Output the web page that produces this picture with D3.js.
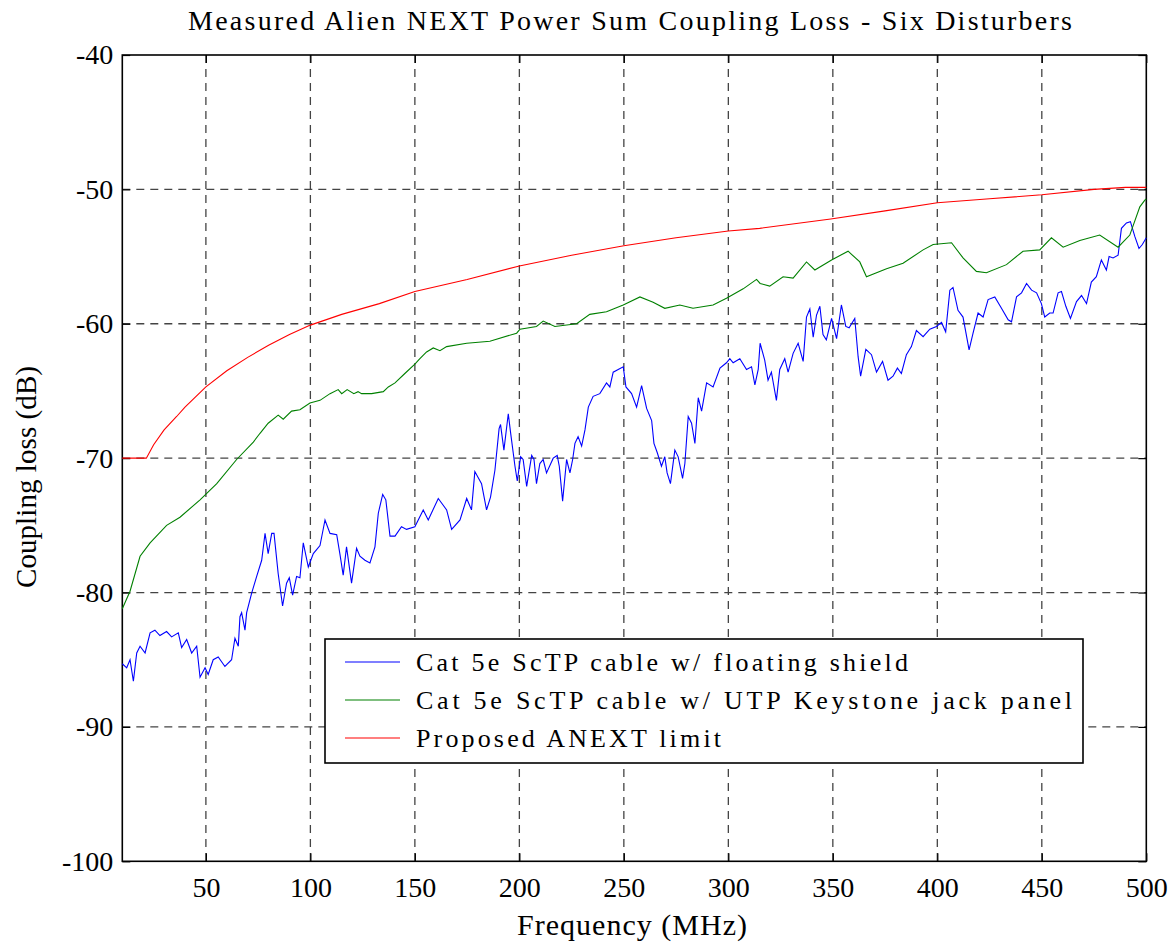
<!DOCTYPE html>
<html>
<head>
<meta charset="utf-8">
<script src="https://cdn.jsdelivr.net/npm/d3@7"></script>
<style>
  body { margin: 0; background: #fff; }
  text { font-family: "Liberation Serif", "Times New Roman", serif; fill: #000; }
</style>
</head>
<body>
<svg class="canvas" width="1174" height="947"></svg>
<script>
// frequency ticks and loss ticks
var xTicks = [50, 100, 150, 200, 250, 300, 350, 400, 450, 500]
var yTicks = [-40, -50, -60, -70, -80, -90, -100]

// Cat 5e ScTP cable w/ floating shield  [MHz, dB]
var blueSeries = [
  [10,-85.3],[12.1,-85.6],[13.7,-85.0],[15.3,-86.6],[16.9,-84.5],[18.5,-84.0],[20.9,-84.5],
  [23.3,-83.0],[25.6,-82.8],[28,-83.2],[31.2,-82.9],[33.6,-83.3],[36.8,-83.0],[38.4,-84.1],
  [40.8,-83.5],[43.2,-84.5],[45.6,-84.0],[47.2,-86.3],[49.6,-85.6],[51.1,-86.1],[53.5,-85.0],
  [55.9,-84.8],[59.1,-85.5],[62.3,-85.0],[63.9,-83.4],[65.5,-84.0],[66.3,-81.8],[67.1,-81.5],
  [68.7,-82.8],[69.5,-81.5],[71.9,-80.05],[74.3,-78.8],[76.7,-77.6],[78.3,-75.6],[79.8,-77.1],
  [81.5,-75.6],[82.6,-75.6],[84.6,-78.6],[86.7,-81.0],[88.6,-79.3],[89.9,-78.9],[91.5,-80.2],
  [93.4,-78.8],[95,-78.9],[96.6,-76.3],[99,-78.1],[101.4,-77.1],[104.6,-76.5],[107,-74.6],
  [109.4,-75.6],[112.6,-75.7],[114.1,-77.1],[115.7,-78.7],[117.3,-76.6],[119.7,-79.3],
  [122.1,-76.7],[123.7,-77.3],[126.1,-77.6],[128.5,-77.8],[130.9,-76.6],[132.5,-74.1],
  [134.6,-72.7],[136.1,-73.1],[138.1,-75.8],[140.5,-75.8],[143.6,-75.1],[146,-75.3],
  [150,-75.1],[154,-73.85],[156.4,-74.6],[161.2,-73.0],[165.2,-73.85],[167.6,-75.3],
  [171.6,-74.6],[174.8,-73.0],[177.1,-73.85],[178.7,-71.0],[181.9,-71.9],[184.3,-73.85],
  [186.2,-72.9],[188.3,-70.9],[190.3,-67.8],[191,-67.5],[192.6,-69.4],[194.7,-66.7],
  [195.8,-68.1],[197.9,-70.6],[199,-71.7],[200.6,-69.9],[201.8,-70.1],[203.5,-72.1],
  [205.9,-69.8],[207,-70.1],[208.2,-71.9],[209.8,-70.4],[211.4,-70.1],[213,-71.1],
  [216.2,-70.0],[218.1,-69.8],[219.1,-70.6],[220.7,-73.2],[222.6,-70.1],[224.2,-71.1],
  [225.5,-70.1],[226.6,-68.9],[228.1,-68.4],[229.8,-69.1],[231.4,-67.9],[233,-66.2],
  [235.3,-65.4],[238.5,-65.2],[241.7,-64.4],[243.3,-64.7],[244.9,-63.6],[247.3,-63.4],
  [249.7,-63.2],[251,-64.7],[253.7,-65.2],[256.1,-66.2],[258.5,-64.6],[260.9,-66.3],
  [263.3,-67.2],[264.4,-68.9],[266,-69.6],[268,-70.6],[269.6,-69.9],[270.7,-71.1],
  [272.3,-71.9],[274.4,-69.4],[276,-69.9],[278.1,-71.5],[279.2,-70.4],[280.8,-66.9],
  [282.4,-67.4],[284,-68.9],[285.6,-65.5],[287.2,-66.5],[289.6,-64.4],[292.7,-64.7],
  [296,-63.3],[299.1,-62.9],[300.7,-62.6],[302.3,-62.9],[305.5,-62.6],[308.7,-63.4],
  [311.1,-63.2],[312.7,-64.55],[314.3,-63.4],[315.2,-61.45],[317.4,-62.7],[319,-64.2],
  [320.6,-63.6],[323,-65.7],[324.6,-63.4],[327,-62.6],[328.6,-63.6],[331,-62.2],
  [333.4,-61.45],[335.8,-62.8],[337.4,-59.5],[339,-58.9],[340.6,-61.0],[342.2,-59.35],
  [343.8,-58.7],[345.3,-60.8],[346.9,-61.2],[349.4,-59.6],[351.8,-61.1],[354.1,-58.6],
  [356.2,-60.2],[357.8,-60.3],[360.5,-59.6],[362.1,-62.45],[363.3,-63.9],[365.8,-61.9],
  [368.5,-62.3],[370.9,-63.6],[373.8,-62.8],[376.4,-64.2],[378.8,-63.9],[380.9,-63.3],
  [382.8,-63.7],[385.2,-62.3],[387.6,-61.7],[390,-60.5],[393.2,-60.96],[396.4,-60.4],
  [399.6,-60.2],[402,-59.9],[404,-60.6],[406,-57.5],[407.5,-57.3],[409.9,-59.0],
  [412.3,-59.5],[415.2,-61.95],[417.1,-60.7],[419.5,-59.2],[421.9,-59.5],[424.3,-58.2],
  [427.5,-58.0],[430.7,-58.85],[433.9,-59.7],[435.5,-59.85],[437.9,-58.0],[440.3,-57.7],
  [442.7,-57.0],[445.1,-57.5],[447.5,-57.7],[449.8,-58.5],[451.4,-59.5],[453.8,-59.2],
  [455.4,-59.2],[457.8,-57.7],[459.4,-57.6],[461.5,-58.7],[463.7,-59.6],[466.6,-58.35],
  [469,-57.9],[471.4,-58.5],[473.7,-56.9],[476.1,-56.5],[478.5,-55.25],[480.9,-56.0],
  [482.2,-55.0],[484.1,-55.1],[486.5,-54.9],[488.1,-52.9],[490.5,-52.5],[492.4,-52.4],
  [494.5,-53.5],[496.5,-54.4],[498.1,-54.1],[500,-53.6]
]

// Cat 5e ScTP cable w/ UTP Keystone jack panel  [MHz, dB]
var greenSeries = [
  [10,-81.2],[13.7,-79.9],[18.5,-77.3],[23.3,-76.3],[31.2,-75.0],[37.6,-74.4],[47.2,-73.1],
  [55.2,-71.9],[64.7,-70.1],[72.7,-68.8],[75.9,-68.15],[79.8,-67.4],[84.6,-66.8],[87,-67.1],
  [91,-66.5],[95,-66.4],[99.8,-65.9],[104.6,-65.7],[109.4,-65.2],[113.3,-64.9],[115,-65.2],
  [117.6,-64.9],[120.8,-65.2],[122.8,-65.05],[124.5,-65.2],[129.3,-65.2],[134.9,-65.05],
  [137.3,-64.7],[140.5,-64.4],[145.2,-63.7],[150,-63.0],[152.4,-62.6],[155.6,-62.1],
  [158.8,-61.8],[162,-62.0],[165.2,-61.7],[174.8,-61.45],[185.9,-61.3],[198.7,-60.7],
  [200.3,-60.4],[208.2,-60.2],[211.4,-59.8],[217,-60.2],[227.4,-60.0],[233.7,-59.3],
  [241.7,-59.1],[249.7,-58.6],[257.7,-58.0],[264,-58.4],[269.6,-58.85],[276.8,-58.6],
  [283.1,-58.85],[292.7,-58.6],[299.1,-58.1],[307.1,-57.4],[313.5,-56.7],[315.2,-57.0],
  [319.8,-57.2],[326.2,-56.5],[331,-56.6],[337.4,-55.4],[341.4,-56.0],[349.4,-55.25],
  [357.3,-54.6],[362.9,-55.4],[366.1,-56.5],[375.7,-55.9],[383.6,-55.5],[393.2,-54.5],
  [398,-54.1],[406.8,-53.97],[412.3,-55.1],[418.7,-56.1],[423.5,-56.2],[433.1,-55.6],
  [441,-54.6],[449,-54.5],[454.6,-53.6],[460.2,-54.3],[468.2,-53.8],[477.7,-53.4],
  [486.5,-54.3],[492.1,-53.4],[496.9,-51.3],[499.3,-50.8],[500,-50.7]
]

// Proposed ANEXT limit  [MHz, dB]
var redSeries = [
  [10,-70],[21.5,-70],[25,-69.0],[30,-67.9],[36,-66.9],[40,-66.2],[50,-64.7],[60,-63.5],
  [70,-62.5],[80,-61.6],[90,-60.8],[100,-60.1],[115,-59.3],[133,-58.5],[150,-57.6],
  [175,-56.7],[200,-55.7],[225,-54.9],[250,-54.2],[275,-53.6],[300,-53.1],[315,-52.9],
  [349,-52.2],[375,-51.6],[400,-51.0],[425,-50.7],[450,-50.4],[475,-50.0],[490,-49.85],[500,-49.85]
]

var legendLabels = [
  'Cat 5e ScTP cable w/ floating shield',
  'Cat 5e ScTP cable w/ UTP Keystone jack panel',
  'Proposed ANEXT limit'
]
var seriesColors = ['#0000ff', '#008000', '#ff0000']

var svg = d3.select('.canvas')
var margin = {left: 122.3, top: 55, right: 1146.3, bottom: 861.3}

var x = d3.scaleLinear().domain([10, 500]).range([margin.left, margin.right])
var y = d3.scaleLinear().domain([-100, -40]).range([margin.bottom, margin.top])

// grid
svg.append('g').selectAll('line')
  .data(xTicks.filter(function(d) { return d < 500 }))
  .enter().append('line')
  .attr('x1', function(d) { return x(d) }).attr('x2', function(d) { return x(d) })
  .attr('y1', margin.top).attr('y2', margin.bottom)
  .attr('stroke', '#444').attr('stroke-width', 1.3).attr('stroke-dasharray', '8,6')

svg.append('g').selectAll('line')
  .data(yTicks.filter(function(d) { return d > -100 && d < -40 }))
  .enter().append('line')
  .attr('x1', margin.left).attr('x2', margin.right)
  .attr('y1', function(d) { return y(d) }).attr('y2', function(d) { return y(d) })
  .attr('stroke', '#444').attr('stroke-width', 1.3).attr('stroke-dasharray', '8,6')

// axes, ticks pointing inward on all four sides
var plain = function(d) { return String(d) }
var xAxis = svg.append('g')
  .attr('transform', 'translate(0,' + margin.bottom + ')')
  .call(d3.axisBottom(x).tickValues(xTicks).tickFormat(plain).tickSizeInner(-8).tickSizeOuter(0))
var yAxis = svg.append('g')
  .attr('transform', 'translate(' + margin.left + ',0)')
  .call(d3.axisLeft(y).tickValues(yTicks).tickFormat(plain).tickSizeInner(-8).tickSizeOuter(0))
var xTop = svg.append('g')
  .attr('transform', 'translate(0,' + margin.top + ')')
  .call(d3.axisTop(x).tickValues(xTicks).tickFormat('').tickSizeInner(-8).tickSizeOuter(0))
var yRight = svg.append('g')
  .attr('transform', 'translate(' + margin.right + ',0)')
  .call(d3.axisRight(y).tickValues(yTicks).tickFormat('').tickSizeInner(-8).tickSizeOuter(0))

;[xAxis, yAxis, xTop, yRight].forEach(function(ax) {
  ax.select('.domain').remove()
  ax.selectAll('line').attr('stroke', '#000').attr('stroke-width', 1.2)
  ax.selectAll('text').attr('font-size', 28).attr('font-family', '"Liberation Serif", serif')
})
xAxis.selectAll('text').attr('dy', '0.71em').attr('y', 16)
yAxis.selectAll('text').attr('x', -9)

// box
svg.append('rect')
  .attr('x', margin.left).attr('y', margin.top)
  .attr('width', margin.right - margin.left).attr('height', margin.bottom - margin.top)
  .attr('fill', 'none').attr('stroke', '#000').attr('stroke-width', 1.6)

// series
var line = d3.line().x(function(d) { return x(d[0]) }).y(function(d) { return y(d[1]) })
var allSeries = [blueSeries, greenSeries, redSeries]
svg.append('g').selectAll('path')
  .data(allSeries)
  .enter().append('path')
  .attr('d', line)
  .attr('fill', 'none')
  .attr('stroke', function(d, i) { return seriesColors[i] })
  .attr('stroke-width', 1.1)

// legend
var legend = svg.append('g')
legend.append('rect')
  .attr('x', 325).attr('y', 639).attr('width', 758).attr('height', 124)
  .attr('fill', '#fff').attr('stroke', '#000').attr('stroke-width', 1.6)

var legendWidths = [492, 656, 305]
legendLabels.forEach(function(label, i) {
  var rowY = 662 + i * 38
  legend.append('line')
    .attr('x1', 345).attr('x2', 400).attr('y1', rowY).attr('y2', rowY)
    .attr('stroke', seriesColors[i]).attr('stroke-width', 1.2)
  legend.append('text')
    .attr('x', 416).attr('y', rowY + 9)
    .attr('font-size', 26)
    .attr('textLength', legendWidths[i]).attr('lengthAdjust', 'spacing')
    .text(label)
})

// titles
svg.append('text')
  .attr('x', 630).attr('y', 30)
  .attr('text-anchor', 'middle')
  .attr('font-size', 28)
  .attr('textLength', 884).attr('lengthAdjust', 'spacing')
  .text('Measured Alien NEXT Power Sum Coupling Loss - Six Disturbers')

svg.append('text')
  .attr('x', 632).attr('y', 935)
  .attr('text-anchor', 'middle')
  .attr('font-size', 30)
  .attr('textLength', 230).attr('lengthAdjust', 'spacing')
  .text('Frequency (MHz)')

svg.append('text')
  .attr('transform', 'translate(36,477) rotate(-90)')
  .attr('text-anchor', 'middle')
  .attr('font-size', 29)
  .attr('textLength', 222).attr('lengthAdjust', 'spacing')
  .text('Coupling loss (dB)')
</script>
</body>
</html>
